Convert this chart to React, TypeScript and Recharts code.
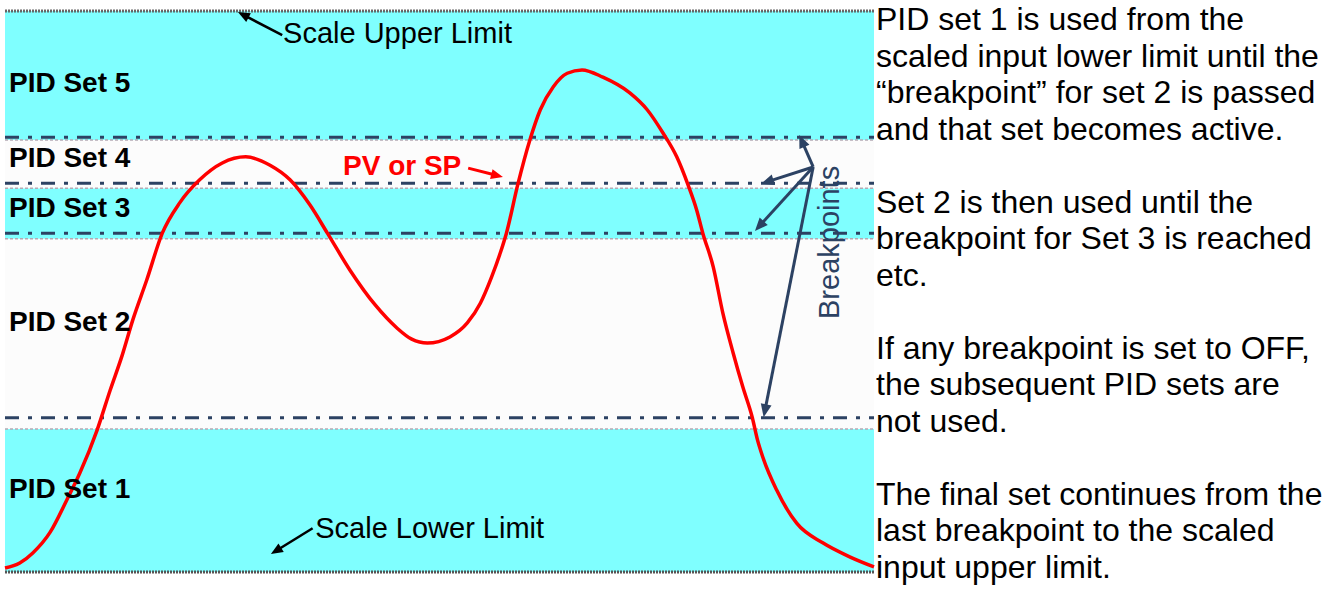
import React from "react";
import { LineChart, Line, XAxis, YAxis, ReferenceArea, ReferenceLine, ReferenceDot } from "recharts";

// time in % of the trace, PV/SP in % of the scaled range
const time = [0, 1.7, 3.2, 5.2, 7.1, 8.6, 10.6, 12.1, 13.5, 14.7, 16.3, 18.1, 20.1, 22.4, 25.0, 27.7, 30.5, 32.8, 35.1, 37.1, 39.7, 42.6, 45.1, 46.8, 48.6, 51.2, 53.2, 54.7, 56.0, 57.0, 57.7, 59.0, 60.4, 61.6, 63.1, 64.7, 66.4, 68.8, 71.9, 73.9, 75.7, 77.3, 78.6, 79.6, 80.3, 81.5, 82.6, 83.8, 84.9, 86.0, 86.6, 87.2, 88.8, 91.1, 94.1, 97.2, 100];
const pv = [0.7, 1.6, 3.4, 7.1, 12.8, 17.6, 25.3, 32.4, 38.7, 44.9, 52.0, 60.4, 65.8, 69.9, 72.9, 74.0, 72.5, 69.9, 65.4, 60.4, 53.8, 47.6, 43.5, 41.5, 40.8, 41.9, 44.4, 47.9, 52.6, 56.9, 60.4, 69.0, 77.0, 82.4, 86.5, 88.9, 89.5, 88.2, 85.4, 82.4, 78.3, 74.0, 69.0, 64.5, 60.4, 54.4, 46.2, 39.0, 33.0, 27.5, 23.5, 20.5, 14.6, 8.7, 5.2, 2.7, 0.9];

const breakpoints = [27.5, 60.4, 69.3, 77.5];
const bandEdges = [0, 25.5, 59.4, 68.4, 77.0, 100];
const bandNames = ["PID Set 1", "PID Set 2", "PID Set 3", "PID Set 4", "PID Set 5"];

const notes = [
  "PID set 1 is used from the",
  "scaled input lower limit until the",
  "\u201cbreakpoint\u201d for set 2 is passed",
  "and that set becomes active.",
  "",
  "Set 2 is then used until the",
  "breakpoint for Set 3 is reached",
  "etc.",
  "",
  "If any breakpoint is set to OFF,",
  "the subsequent PID sets are",
  "not used.",
  "",
  "The final set continues from the",
  "last breakpoint to the scaled",
  "input upper limit.",
];

const data = time.map((t, i) => ({ t, pv: pv[i] }));

const FONT = "'Liberation Sans', Arial, sans-serif";
const CYAN = "#7fffff";
const NAVY = "#2c4263";

// label anchor points (data units)
const bandLabelY = [13.2, 43.0, 63.3, 72.2, 85.6];

const arrow = (color: string, width: number, head = 13) => (p: any) => {
  const { x1, y1, x2, y2 } = p;
  const dx = x2 - x1, dy = y2 - y1;
  const len = Math.sqrt(dx * dx + dy * dy) || 1;
  const ux = dx / len, uy = dy / len;
  const bx = x2 - ux * head, by = y2 - uy * head;
  const hw = head * 0.42;
  const pts = `${x2},${y2} ${bx - uy * hw},${by + ux * hw} ${bx + uy * hw},${by - ux * hw}`;
  return (
    <g>
      <line x1={x1} y1={y1} x2={bx + ux * 2} y2={by + uy * 2} stroke={color} strokeWidth={width} />
      <polygon points={pts} fill={color} />
    </g>
  );
};

const textMark = (label: string, opts: any) => (p: any) => (
  <text
    x={p.cx}
    y={p.cy}
    fontFamily={FONT}
    fontSize={opts.size}
    fontWeight={opts.bold ? "bold" : "normal"}
    fill={opts.color || "#000"}
    transform={opts.rotate ? `rotate(${opts.rotate} ${p.cx} ${p.cy})` : undefined}
  >
    {label}
  </text>
);

export default function App() {
  return (
    <div style={{ position: "absolute", left: 0, top: 0, width: 1336, height: 589, background: "#fff", overflow: "hidden" }}>
      <LineChart width={875} height={589} data={data} margin={{ top: 11, right: 1, bottom: 17, left: 5 }}>
        <XAxis type="number" dataKey="t" domain={[0, 100]} hide />
        <YAxis type="number" domain={[0, 100]} hide />

        {bandNames.map((_, i) => (
          <ReferenceArea
            key={"band" + i}
            y1={bandEdges[i]}
            y2={bandEdges[i + 1]}
            fill={i % 2 === 0 ? CYAN : "#fcfcfc"}
            fillOpacity={1}
            stroke="none"
            zIndex={50}
          />
        ))}
        {bandEdges.slice(1, -1).map((v) => (
          <ReferenceLine key={"edge" + v} y={v} stroke="#b4a9b4" strokeWidth={1.5} strokeDasharray="3 2" zIndex={60} />
        ))}
        <ReferenceLine y={100} stroke="#666" strokeWidth={3} strokeDasharray="2 1" zIndex={60} />
        <ReferenceLine y={0} stroke="#555" strokeWidth={3} strokeDasharray="2 1" zIndex={60} />

        {breakpoints.map((v) => (
          <ReferenceLine key={"bp" + v} y={v} stroke={NAVY} strokeWidth={3} strokeDasharray="14 9 4 9" zIndex={300} />
        ))}

        <Line type="monotone" dataKey="pv" stroke="#ff0000" strokeWidth={3.5} dot={false} isAnimationActive={false} />

        {/* arrows */}
        <ReferenceLine segment={[{ x: 31.9, y: 95.7 }, { x: 26.8, y: 99.8 }]} shape={arrow("#000", 2.5, 12)} zIndex={500} />
        <ReferenceLine segment={[{ x: 35.4, y: 7.8 }, { x: 30.6, y: 3.2 }]} shape={arrow("#000", 2.5, 12)} zIndex={500} />
        <ReferenceLine segment={[{ x: 53.3, y: 72.0 }, { x: 57.3, y: 70.4 }]} shape={arrow("#ff0000", 3, 12)} zIndex={500} />
        <ReferenceLine segment={[{ x: 93.0, y: 72.2 }, { x: 91.4, y: 77.9 }]} shape={arrow(NAVY, 3, 13)} zIndex={500} />
        <ReferenceLine segment={[{ x: 93.0, y: 72.2 }, { x: 87.0, y: 69.2 }]} shape={arrow(NAVY, 3, 13)} zIndex={500} />
        <ReferenceLine segment={[{ x: 93.0, y: 72.2 }, { x: 86.3, y: 60.8 }]} shape={arrow(NAVY, 3, 13)} zIndex={500} />
        <ReferenceLine segment={[{ x: 93.0, y: 72.2 }, { x: 87.3, y: 27.6 }]} shape={arrow(NAVY, 3, 13)} zIndex={500} />

        {/* text */}
        {bandNames.map((name, i) => (
          <ReferenceDot key={name} x={0.46} y={bandLabelY[i]} shape={textMark(name, { size: 28, bold: true })} zIndex={600} />
        ))}
        <ReferenceDot x={32.0} y={94.3} shape={textMark("Scale Upper Limit", { size: 29 })} zIndex={600} />
        <ReferenceDot x={35.7} y={6.1} shape={textMark("Scale Lower Limit", { size: 29 })} zIndex={600} />
        <ReferenceDot x={38.9} y={70.8} shape={textMark("PV or SP", { size: 28, bold: true, color: "#ff0000" })} zIndex={600} />
        <ReferenceDot x={96.0} y={45.1} shape={textMark("Breakpoints", { size: 29, color: NAVY, rotate: -90 })} zIndex={600} />
      </LineChart>

      <div
        style={{
          position: "absolute",
          left: 876,
          top: 1,
          fontFamily: FONT,
          fontSize: 32,
          lineHeight: "36.5px",
          color: "#000",
          whiteSpace: "nowrap",
        }}
      >
        {notes.map((line, i) => (
          <div key={i} style={{ height: 36.5 }}>{line}</div>
        ))}
      </div>
    </div>
  );
}
